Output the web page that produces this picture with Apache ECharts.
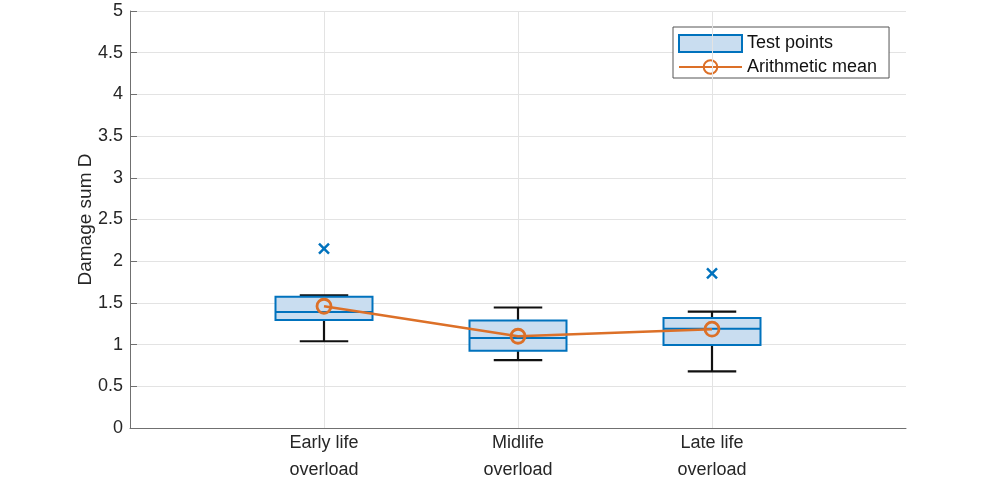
<!DOCTYPE html>
<html>
<head>
<meta charset="utf-8">
<script src="https://cdn.jsdelivr.net/npm/echarts@6/dist/echarts.min.js"></script>
<style>html,body{margin:0;padding:0;background:#fff}#c{width:1000px;height:484px}</style>
</head>
<body>
<div id="c"></div>
<script>
// Data
const categories = ['Early life\noverload', 'Midlife\noverload', 'Late life\noverload'];
const positions = [1, 2, 3];
// [lower whisker, q1, median, q3, upper whisker]
const boxStats = [
  [1.04, 1.295, 1.39, 1.575, 1.59],
  [0.815, 0.925, 1.08, 1.29, 1.445],
  [0.68, 0.995, 1.19, 1.32, 1.395]
];
const outliers = [[1, 2.15], [3, 1.855]];
const means = [1.46, 1.10, 1.185];
const yTicks = [0, 0.5, 1, 1.5, 2, 2.5, 3, 3.5, 4, 4.5, 5];

const BLUE = '#0072BD', FILL = '#c9ddf0', ORANGE = '#DC7028';
const FONT = 'Liberation Sans';

const chart = echarts.init(document.getElementById('c'), null, {renderer: 'canvas'});
const boxData = positions.map((p, i) => [p].concat(boxStats[i]));

chart.setOption({
  animation: false,
  textStyle: {fontFamily: FONT},
  grid: {left: 130, right: 94, top: 11, bottom: 55, containLabel: false},
  legend: {
    orient: 'vertical', left: 673, top: 27,
    backgroundColor: '#fff', borderColor: '#555', borderWidth: 1,
    padding: [7, 12, 2, 5], itemGap: 5, itemWidth: 63, itemHeight: 17,
    textStyle: {fontFamily: FONT, fontSize: 18, color: '#111'},
    data: [
      {name: 'Test points', icon: 'rect', itemStyle: {color: FILL, borderColor: BLUE, borderWidth: 2}},
      {name: 'Arithmetic mean'}
    ]
  },
  xAxis: {
    type: 'value', min: 0, max: 4, interval: 1,
    axisLine: {show: true, lineStyle: {color: '#707070', width: 1}},
    axisTick: {show: true, inside: true, length: 7, customValues: positions, lineStyle: {color: '#707070'}},
    axisLabel: {
      customValues: positions, margin: 2, fontFamily: FONT, fontSize: 18, color: '#262626', lineHeight: 27,
      formatter: v => { const i = positions.indexOf(v); return i >= 0 ? categories[i] : ''; }
    },
    splitLine: {show: false}
  },
  yAxis: {
    type: 'value', min: 0, max: 5, interval: 0.5,
    name: 'Damage sum D', nameLocation: 'middle', nameGap: 35, nameMoveOverlap: false,
    nameTextStyle: {fontFamily: FONT, fontSize: 19, color: '#262626'},
    axisLine: {show: true, lineStyle: {color: '#707070', width: 1}},
    axisTick: {show: true, inside: true, length: 7, lineStyle: {color: '#707070'}},
    axisLabel: {margin: 7, fontFamily: FONT, fontSize: 18, color: '#262626',
      formatter: v => String(v)},
    splitLine: {show: true, lineStyle: {color: '#e3e3e3', width: 1}}
  },
  series: [
    {
      name: 'grid-x', type: 'line', data: [], silent: true, z: 1,
      markLine: {
        silent: true, symbol: 'none', label: {show: false},
        lineStyle: {color: '#e3e3e3', type: 'solid', width: 1},
        data: positions.map(p => ({xAxis: p}))
      }
    },
    {
      name: 'Test points', type: 'custom', z: 10,
      data: boxData,
      encode: {x: 0, y: [1, 2, 3, 4, 5]},
      renderItem: function (params, api) {
        const x = api.value(0);
        const lo = api.coord([x, api.value(1)]);
        const q1 = api.coord([x, api.value(2)]);
        const med = api.coord([x, api.value(3)]);
        const q3 = api.coord([x, api.value(4)]);
        const hi = api.coord([x, api.value(5)]);
        const bw = api.size([0.5, 0])[0];
        const cw = api.size([0.25, 0])[0];
        const cx = lo[0];
        const blk = {stroke: '#111', lineWidth: 2.2};
        return {
          type: 'group',
          children: [
            {type: 'line', shape: {x1: cx, y1: q3[1], x2: cx, y2: hi[1]}, style: blk},
            {type: 'line', shape: {x1: cx, y1: q1[1], x2: cx, y2: lo[1]}, style: blk},
            {type: 'line', shape: {x1: cx - cw / 2, y1: hi[1], x2: cx + cw / 2, y2: hi[1]}, style: blk},
            {type: 'line', shape: {x1: cx - cw / 2, y1: lo[1], x2: cx + cw / 2, y2: lo[1]}, style: blk},
            {type: 'rect', shape: {x: cx - bw / 2, y: q3[1], width: bw, height: q1[1] - q3[1]},
              style: {fill: FILL, stroke: BLUE, lineWidth: 2}},
            {type: 'line', shape: {x1: cx - bw / 2, y1: med[1], x2: cx + bw / 2, y2: med[1]},
              style: {stroke: BLUE, lineWidth: 2}}
          ]
        };
      }
    },
    {
      name: 'outliers', type: 'custom', z: 11,
      data: outliers,
      renderItem: function (params, api) {
        const p = api.coord([api.value(0), api.value(1)]);
        const s = 5;
        const st = {stroke: BLUE, lineWidth: 2.4};
        return {type: 'group', children: [
          {type: 'line', shape: {x1: p[0] - s, y1: p[1] - s, x2: p[0] + s, y2: p[1] + s}, style: st},
          {type: 'line', shape: {x1: p[0] - s, y1: p[1] + s, x2: p[0] + s, y2: p[1] - s}, style: st}
        ]};
      }
    },
    {
      name: 'Arithmetic mean', type: 'line', z: 12,
      data: positions.map((p, i) => [p, means[i]]),
      symbol: 'circle', symbolSize: 14, showSymbol: true,
      lineStyle: {color: ORANGE, width: 2.5},
      itemStyle: {color: 'rgba(0,0,0,0)', borderColor: ORANGE, borderWidth: 2.8}
    }
  ]
});
</script>
</body>
</html>
